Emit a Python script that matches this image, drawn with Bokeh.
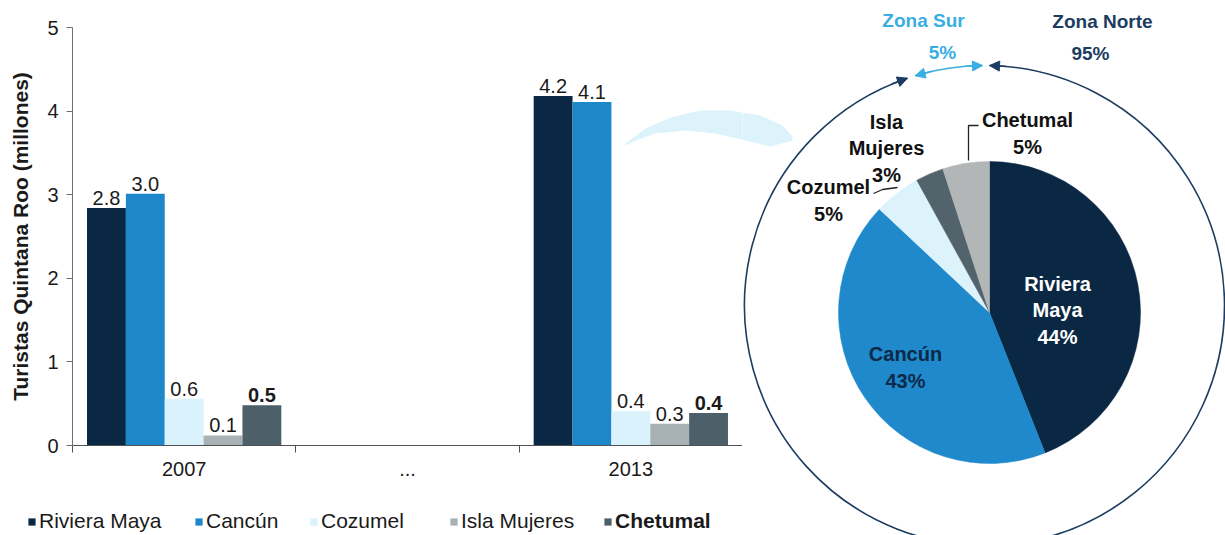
import math

from bokeh.core.properties import value
from bokeh.embed import file_html
from bokeh.layouts import column, row
from bokeh.models import (Arrow, ColumnDataSource, CustomJSTickFormatter, FixedTicker,
                          Legend, LegendItem, NormalHead, Range1d)
from bokeh.plotting import figure
from bokeh.resources import INLINE

FONT = "Liberation Sans"

# ---------------- data ----------------
categories = ["2007", "...", "2013"]
bar_years = ["2007", "2013"]
series = ["Riviera Maya", "Cancún", "Cozumel", "Isla Mujeres", "Chetumal"]
riviera_maya = [2.84, 4.18]
cancun = [3.01, 4.11]
cozumel = [0.56, 0.41]
isla_mujeres = [0.12, 0.26]
chetumal = [0.48, 0.39]
series_values = [riviera_maya, cancun, cozumel, isla_mujeres, chetumal]
series_colors = ["#0a2744", "#1c87c9", "#d9f2fc", "#a8b2b5", "#4d5f68"]
series_styles = ["normal", "normal", "normal", "normal", "bold"]
y_ticks = [0, 1, 2, 3, 4, 5]
y_title = "Turistas Quintana Roo (millones)"

pie_names = ["Riviera\nMaya", "Cancún", "Cozumel", "Isla\nMujeres", "Chetumal"]
pie_shares = [44, 43, 5, 3, 5]
pie_colors = ["#0a2744", "#1f89cb", "#dcf3fc", "#53636b", "#b2b6b7"]
pie_text_colors = ["#ffffff", "#0c2a48", "#111111", "#111111", "#111111"]

zones = ["Zona Sur", "Zona Norte"]
zone_shares = [5, 95]
zone_colors = ["#3aaee2", "#1c3d60"]

# ---------------- layout constants ----------------
LEFT_W = 742
BAR_H = 505
LEG_H = 30
BAR_W = 0.174
LEGEND_X = [27, 194, 309, 449, 603]          # swatch left edge, page px
LEGEND_Y = 2
PIE_CX, PIE_CY, PIE_R = 989, 223, 151
RING_CX, RING_CY, RING_R = 984, 230, 240
PIE_LABEL_POS = [(1057, 225), (905, 168), (828, 335), (886, 387), (1027, 402)]
ZONE_NAME_POS = [(923, 515), (1102, 514)]
ZONE_PCT_POS = [(942, 483), (1090, 482)]
# pale connector band from the 2013 group to the pie (page px, y down)
BAND_X = [625, 645, 670, 700, 730, 760, 782, 792, 792, 770, 745, 715, 685, 655, 635, 625]
BAND_Y = [143, 128, 117, 110, 110, 115, 125, 136, 140, 146, 140, 133, 130, 133, 140, 145]

# ---------------- bar chart ----------------
p = figure(width=LEFT_W, height=BAR_H, x_range=Range1d(0, len(categories)),
           y_range=Range1d(0, 5), output_backend="svg", toolbar_location=None,
           min_border_left=72, min_border_right=0, min_border_top=27, min_border_bottom=60)
p.frame_align = False
p.outline_line_color = None
p.grid.visible = False
p.extra_x_ranges = {"page": Range1d(72, LEFT_W)}
p.extra_y_ranges = {"page": Range1d(445, 27)}

p.patch(BAND_X, BAND_Y, x_range_name="page", y_range_name="page",
        fill_color="#dcf3fb", line_color=None)

n = len(series)
for j, (vals, col, sty) in enumerate(zip(series_values, series_colors, series_styles)):
    xs = [categories.index(y) + 0.5 + (j - (n - 1) / 2) * BAR_W for y in bar_years]
    src = ColumnDataSource(dict(x=xs, top=vals, label=[f"{v:.1f}" for v in vals]))
    p.vbar(x="x", top="top", width=BAR_W, source=src, fill_color=col, line_color=None)
    p.text(x="x", y="top", text="label", source=src, text_font=value(FONT),
           text_font_size="20px", text_font_style=value(sty), text_color="#1a1a1a",
           text_align="center", text_baseline="bottom", y_offset=-3)

yax = p.yaxis[0]
yax.ticker = FixedTicker(ticks=y_ticks)
yax.axis_label = y_title
yax.axis_label_text_font = FONT
yax.axis_label_text_font_size = "21px"
yax.axis_label_text_font_style = "bold"
yax.axis_label_text_color = "#1a1a1a"
yax.axis_label_standoff = 12
yax.major_label_text_font = FONT
yax.major_label_text_font_size = "20px"
yax.major_label_text_color = "#1a1a1a"
yax.major_label_standoff = 8
yax.major_tick_out = 6
yax.major_tick_in = 0
yax.minor_tick_out = 0
yax.minor_tick_in = 0
yax.axis_line_color = "#707070"
yax.major_tick_line_color = "#707070"

xax = p.xaxis[0]
xax.ticker = FixedTicker(ticks=[i + 0.5 for i in range(len(categories))],
                         minor_ticks=list(range(len(categories) + 1)))
xax.formatter = CustomJSTickFormatter(args=dict(labels=categories),
                                      code="return labels[Math.floor(tick)] || ''")
xax.major_tick_line_color = None
xax.major_tick_out = 0
xax.major_tick_in = 0
xax.minor_tick_out = 7
xax.minor_tick_in = 0
xax.minor_tick_line_color = "#505050"
xax.axis_line_color = "#505050"
xax.major_label_text_font = FONT
xax.major_label_text_font_size = "20px"
xax.major_label_text_color = "#1a1a1a"
xax.major_label_standoff = 9

# ---------------- legend strip under the bars ----------------
lg = figure(width=LEFT_W, height=LEG_H, x_range=Range1d(0, LEFT_W), y_range=Range1d(0, LEG_H),
            output_backend="svg", toolbar_location=None, min_border=0,
            x_axis_type=None, y_axis_type=None)
lg.frame_align = False
lg.outline_line_color = None
lg.grid.visible = False
for name, col, sty, lx in zip(series, series_colors, series_styles, LEGEND_X):
    # zero-height swatch renderer: only its legend glyph is visible
    swatch = lg.vbar(x=[lx], top=[0], bottom=[0], width=1, fill_color=col, line_color=None)
    leg = Legend(items=[LegendItem(label=name, renderers=[swatch])], location=(lx, LEGEND_Y),
                 orientation="horizontal", padding=0, margin=0, spacing=0,
                 glyph_width=9, glyph_height=9, label_standoff=3, label_height=20,
                 label_text_font=FONT, label_text_font_size="21px",
                 label_text_font_style=sty, label_text_color="#1a1a1a",
                 border_line_color=None, background_fill_alpha=0)
    lg.add_layout(leg)

# ---------------- pie with zone ring ----------------
q = figure(width=1225 - LEFT_W, height=BAR_H + LEG_H, x_range=Range1d(LEFT_W, 1225),
           y_range=Range1d(0, BAR_H + LEG_H), output_backend="svg", toolbar_location=None,
           min_border=0, x_axis_type=None, y_axis_type=None)
q.frame_align = False
q.outline_line_color = None
q.grid.visible = False
q.extra_y_ranges = {"page": Range1d(BAR_H + LEG_H, 0)}

q.patch(BAND_X, BAND_Y, y_range_name="page", fill_color="#dcf3fb", line_color=None)

total = sum(pie_shares)
starts, ends = [], []
cum = 0
for s in pie_shares:
    starts.append(math.pi / 2 - 2 * math.pi * cum / total)
    cum += s
    ends.append(math.pi / 2 - 2 * math.pi * cum / total)
pie_src = ColumnDataSource(dict(start=starts, end=ends, color=pie_colors))
q.wedge(x=PIE_CX, y=PIE_CY, radius=PIE_R, start_angle="start", end_angle="end",
        direction="clock", fill_color="color", line_color="color", line_width=0.5,
        source=pie_src)

lab_src = ColumnDataSource(dict(
    x=[pos[0] for pos in PIE_LABEL_POS], y=[pos[1] for pos in PIE_LABEL_POS],
    text=[f"{nm}\n{sh}%" for nm, sh in zip(pie_names, pie_shares)],
    color=pie_text_colors))
q.text(x="x", y="y", text="text", source=lab_src, text_font=value(FONT),
       text_font_size="20px", text_font_style="bold", text_color="color",
       text_align="center", text_baseline="middle", text_line_height=1.2)

# leader lines for the small slices
q.line([968, 968, 978], [375, 410, 410], line_color="#222222", line_width=1.3)
q.line([873, 882, 897], [342, 346, 348], line_color="#222222", line_width=1.3)


def ring_point(theta_deg):
    t = math.radians(theta_deg)
    return RING_CX + RING_R * math.sin(t), RING_CY + RING_R * math.cos(t)


def to_bokeh(theta_deg):
    return math.pi / 2 - math.radians(theta_deg)


zone_total = sum(zone_shares)
norte_span = 360 * zone_shares[1] / zone_total
GAP = 1.2
# (start, end) angles clockwise from top for each zone arc
zone_arcs = [(norte_span + GAP, 360 - GAP * 0.4), (GAP, norte_span - GAP * 0.6)]
for (t0, t1), col in zip(zone_arcs, zone_colors):
    q.arc(x=RING_CX, y=RING_CY, radius=RING_R, start_angle=to_bokeh(t0),
          end_angle=to_bokeh(t1), direction="clock", line_color=col, line_width=1.6)
    for tip, back in ((t0, t0 + 4), (t1, t1 - 4)):
        xs0, ys0 = ring_point(back)
        xs1, ys1 = ring_point(tip)
        q.add_layout(Arrow(end=NormalHead(size=10, fill_color=col, line_color=col),
                           x_start=xs0, y_start=ys0, x_end=xs1, y_end=ys1,
                           line_color=col, line_width=1.6))

for name, share, col, (nx, ny), (px, py) in zip(zones, zone_shares, zone_colors,
                                                 ZONE_NAME_POS, ZONE_PCT_POS):
    q.text(x=[nx], y=[ny], text=[name], text_font=value(FONT), text_font_size="19px",
           text_font_style="bold", text_color=col, text_align="center",
           text_baseline="middle")
    q.text(x=[px], y=[py], text=[f"{share}%"], text_font=value(FONT), text_font_size="19px",
           text_font_style="bold", text_color=col, text_align="center",
           text_baseline="middle")

layout = row(column(p, lg, spacing=0), q, spacing=0)
open("out.html", "w").write(file_html(layout, INLINE))
